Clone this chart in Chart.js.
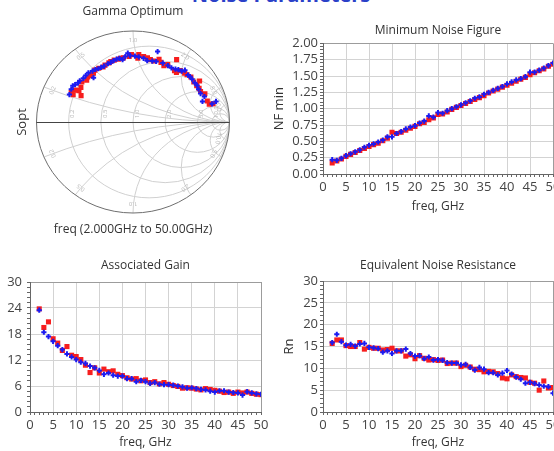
<!DOCTYPE html>
<html>
<head>
<meta charset="utf-8">
<title>Noise Parameters</title>
<script src="https://cdn.jsdelivr.net/npm/chart.js@4.4.1/dist/chart.umd.min.js"></script>
<style>
  html, body { margin: 0; padding: 0; background: #fff; width: 554px; height: 451px; overflow: hidden; position: relative; }
  .plot { position: absolute; }
  #pageTitle { position: absolute; left: 0; width: 562px; top: -19px; line-height: 20px; text-align: center;
               font: bold 20px 'Open Sans', sans-serif; color: #2a40c8; }
</style>
</head>
<body>
<div id="pageTitle">Noise Parameters</div>
<canvas id="gammaChart" class="plot" width="277" height="250" style="left:0;top:0"></canvas>
<canvas id="nfChart" class="plot" width="330" height="225" style="left:255px;top:0"></canvas>
<canvas id="gainChart" class="plot" width="277" height="201" style="left:0;top:250px"></canvas>
<canvas id="rnChart" class="plot" width="330" height="201" style="left:255px;top:250px"></canvas>
<script>
/* Noise parameters: Gamma optimum (Smith chart), NFmin, associated gain, Rn
   red squares = first data set, blue crosses = second data set */

// ---- data ---------------------------------------------------------------
const freqGHz = [2, 3, 4, 5, 6, 7, 8, 9, 10, 11, 12, 13, 14, 15, 16, 17, 18, 19, 20, 21, 22, 23, 24, 25, 26,
                 27, 28, 29, 30, 31, 32, 33, 34, 35, 36, 37, 38, 39, 40, 41, 42, 43, 44, 45, 46, 47, 48, 49, 50];

// Gamma opt, real / imaginary part
const soptRedRe = [0.830, 0.790, 0.770, 0.745, 0.700, 0.685, 0.690, 0.660, 0.630, 0.600, 0.560, 0.535, 0.490,
                   0.450, 0.430, 0.452, 0.360, 0.320, 0.290, 0.270, 0.215, 0.180, 0.150, 0.110, 0.060, 0.050,
                   -0.015, -0.040, -0.100, -0.130, -0.150, -0.195, -0.230, -0.250, -0.290, -0.310, -0.355,
                   -0.395, -0.410, -0.430, -0.470, -0.480, -0.530, -0.540, -0.538, -0.600, -0.560, -0.640, -0.620];
const soptRedIm = [0.200, 0.195, 0.230, 0.310, 0.335, 0.370, 0.450, 0.400, 0.440, 0.495, 0.520, 0.535, 0.565,
                   0.545, 0.565, 0.685, 0.630, 0.620, 0.655, 0.690, 0.670, 0.685, 0.705, 0.720, 0.740, 0.700,
                   0.740, 0.720, 0.705, 0.700, 0.690, 0.680, 0.665, 0.650, 0.625, 0.605, 0.590, 0.570, 0.535,
                   0.510, 0.495, 0.460, 0.440, 0.380, 0.290, 0.350, 0.345, 0.325, 0.300];
const soptBlueRe = [0.860, 0.820, 0.720, 0.740, 0.700, 0.680, 0.665, 0.640, 0.613, 0.590, 0.570, 0.538, 0.505,
                    0.470, 0.440, 0.398, 0.362, 0.309, 0.255, 0.240, 0.200, 0.147, 0.110, 0.060, 0.020, -0.054,
                    -0.030, -0.080, -0.108, -0.140, -0.170, -0.200, -0.230, -0.260, -0.301, -0.330, -0.360,
                    -0.390, -0.409, -0.420, -0.462, -0.490, -0.515, -0.552, -0.570, -0.600, -0.624, -0.640, -0.659];
const soptBlueIm = [0.226, 0.200, 0.226, 0.280, 0.312, 0.360, 0.400, 0.430, 0.470, 0.500, 0.516, 0.570, 0.559,
                    0.575, 0.580, 0.595, 0.620, 0.648, 0.774, 0.665, 0.670, 0.674, 0.700, 0.715, 0.725, 0.756,
                    0.730, 0.720, 0.685, 0.700, 0.690, 0.675, 0.655, 0.640, 0.613, 0.600, 0.585, 0.577, 0.487,
                    0.560, 0.541, 0.510, 0.480, 0.452, 0.430, 0.410, 0.398, 0.360, 0.301];

const nfminRed = [0.17, 0.20, 0.23, 0.27, 0.30, 0.33, 0.36, 0.39, 0.42, 0.45, 0.47, 0.51, 0.55, 0.64, 0.62, 0.64,
                  0.67, 0.70, 0.73, 0.77, 0.79, 0.83, 0.86, 0.91, 0.92, 0.95, 0.99, 1.02, 1.05, 1.08, 1.11, 1.14,
                  1.17, 1.20, 1.24, 1.27, 1.30, 1.33, 1.36, 1.39, 1.42, 1.45, 1.48, 1.52, 1.55, 1.58, 1.61, 1.65, 1.68];
const nfminBlue = [0.22, 0.21, 0.24, 0.28, 0.31, 0.34, 0.37, 0.41, 0.44, 0.46, 0.49, 0.52, 0.57, 0.57, 0.62, 0.65,
                   0.69, 0.72, 0.74, 0.78, 0.81, 0.89, 0.87, 0.94, 0.93, 0.97, 1.00, 1.03, 1.06, 1.09, 1.12, 1.16,
                   1.18, 1.22, 1.25, 1.28, 1.31, 1.34, 1.38, 1.41, 1.44, 1.46, 1.49, 1.56, 1.56, 1.59, 1.62, 1.66, 1.70];

const gainRed = [23.8, 19.5, 20.8, 16.9, 15.9, 14.2, 15.1, 13.1, 12.8, 12.1, 10.8, 9.1, 10.2, 9.0, 9.9, 9.3, 9.5,
                 8.7, 8.4, 7.9, 7.6, 7.7, 7.2, 7.4, 6.8, 7.0, 6.5, 6.8, 6.4, 6.1, 5.9, 5.5, 5.6, 5.5, 5.3, 5.1,
                 5.4, 5.2, 5.0, 4.8, 4.5, 4.6, 4.3, 4.6, 4.4, 4.6, 4.3, 4.1, 4.0];
const gainBlue = [23.5, 18.4, 17.4, 16.3, 15.3, 14.4, 13.4, 12.7, 12.1, 11.5, 11.2, 10.6, 10.2, 9.6, 8.7, 9.0, 8.5,
                  8.3, 8.3, 7.7, 7.7, 7.0, 7.3, 7.0, 6.6, 6.8, 6.4, 6.3, 6.3, 6.2, 6.0, 5.8, 5.5, 5.6, 5.4, 5.2,
                  5.1, 4.8, 4.6, 4.9, 4.9, 4.6, 4.5, 4.4, 3.9, 4.7, 4.4, 4.2, 4.1];

const rnRed = [15.7, 16.5, 16.5, 15.2, 15.0, 15.0, 15.9, 14.4, 14.8, 14.6, 14.6, 14.2, 14.3, 14.6, 14.0, 14.0, 12.8,
               13.1, 12.2, 12.9, 12.3, 11.9, 12.0, 11.8, 11.9, 11.1, 11.2, 11.2, 10.4, 10.7, 10.3, 9.8, 9.7, 9.2,
               9.3, 9.2, 8.8, 7.8, 7.6, 8.5, 8.1, 7.9, 7.8, 6.8, 6.6, 5.0, 7.1, 5.5, 5.6];
const rnBlue = [15.9, 17.8, 16.1, 15.3, 15.5, 15.1, 15.6, 15.7, 14.8, 14.7, 14.5, 13.7, 14.0, 13.4, 14.0, 14.0, 14.4,
                13.4, 12.8, 12.9, 12.2, 12.6, 11.9, 12.0, 11.8, 11.3, 11.2, 11.2, 10.8, 10.9, 10.2, 9.6, 10.2, 9.8,
                9.0, 9.0, 8.5, 8.9, 9.5, 8.7, 8.0, 7.5, 6.6, 6.8, 6.5, 6.2, 5.9, 5.8, 4.3];

// axis ticks
const freqTicks = [0, 5, 10, 15, 20, 25, 30, 35, 40, 45, 50];
const nfTicks = [0, 0.25, 0.5, 0.75, 1, 1.25, 1.5, 1.75, 2];
const gainTicks = [0, 6, 12, 18, 24, 30];
const rnTicks = [0, 5, 10, 15, 20, 25, 30];
const smithR = [0.2, 0.5, 1, 2, 5, 10];
const smithX = [0.2, 0.5, 1, 2, 5, 10];

// ---- styling ------------------------------------------------------------
const GRID = '#d3d3d3';
const FRAME = '#9c9c9c';
const AXIS = '#666';
const TEXT = '#333';

Chart.defaults.font.family = "'Open Sans', sans-serif";
Chart.defaults.color = '#444';
Chart.defaults.animation = false;

function redSeries(points) {
    return { data: points, pointStyle: 'rect', pointRadius: 3.6, pointBackgroundColor: '#f71e1e',
             pointBorderWidth: 0, order: 1 };
}

function blueSeries(points) {
    return { data: points, pointStyle: 'cross', pointRadius: 2.6, pointBorderColor: '#1b1bf2',
             pointBorderWidth: 2, order: 0 };
}

function toPoints(xs, ys) {
    return xs.map((x, i) => ({ x: x, y: ys[i] }));
}

function chartTitle(text, top, bottom) {
    return { display: true, text: text, fullSize: false, color: TEXT,
             font: { size: 12, weight: 'normal' }, padding: { top: top, bottom: bottom } };
}

/**
 * Linear axis with minor tick marks and labels / grid lines only on the major ticks
 */
function linearAxis(cfg) {
    const isMajor = v => cfg.majors.some(m => Math.abs(m - v) < 1e-6);
    const vertical = cfg.position === 'left';
    return {
        type: 'linear',
        position: cfg.position,
        min: cfg.min,
        max: cfg.max,
        afterFit: function (scale) {
            if (vertical) scale.width = cfg.size; else scale.height = cfg.size;
        },
        ticks: {
            stepSize: cfg.minor,
            autoSkip: false,
            minRotation: 0,
            maxRotation: 0,
            padding: cfg.labelPad,
            font: { size: 13 },
            color: '#444',
            callback: v => isMajor(v) ? cfg.format(v) : ''
        },
        grid: {
            color: c => (!c.tick || !isMajor(c.tick.value)) ? 'transparent'
                : (Math.abs(c.tick.value - cfg.max) < 1e-6 ? FRAME : GRID),
            tickColor: AXIS,
            tickLength: 3
        },
        border: { color: AXIS },
        title: cfg.title
            ? { display: true, text: cfg.title, color: TEXT, font: { size: cfg.titleSize || 12 }, padding: cfg.titlePad }
            : { display: false }
    };
}

function freqAxis(height, titleBottom) {
    return linearAxis({ position: 'bottom', min: 0, max: 50, minor: 1, majors: freqTicks, size: height,
                        labelPad: 2, format: v => String(v), title: 'freq, GHz',
                        titlePad: { top: 0, bottom: titleBottom } });
}

// ---- Smith chart grid ---------------------------------------------------
const smithGrid = {
    id: 'smithGrid',
    beforeDatasetsDraw(chart) {
        const { ctx, scales: { x, y } } = chart;
        const cx = x.getPixelForValue(0), cy = y.getPixelForValue(0);
        const rx = x.getPixelForValue(1) - cx, ry = cy - y.getPixelForValue(1);

        ctx.save();
        ctx.beginPath();
        ctx.ellipse(cx, cy, rx, ry, 0, 0, 2 * Math.PI);
        ctx.clip();
        ctx.strokeStyle = '#d0d0d0';
        ctx.lineWidth = 1;
        smithR.forEach(r => {
            const c = r / (1 + r), rad = 1 / (1 + r);
            ctx.beginPath();
            ctx.ellipse(cx + c * rx, cy, rad * rx, rad * ry, 0, 0, 2 * Math.PI);
            ctx.stroke();
        });
        smithX.forEach(xv => {
            [1, -1].forEach(s => {
                ctx.beginPath();
                ctx.ellipse(cx + rx, cy - s * ry / xv, rx / xv, ry / xv, 0, 0, 2 * Math.PI);
                ctx.stroke();
            });
        });
        ctx.restore();

        // small grey value labels
        ctx.save();
        ctx.fillStyle = '#b4b4b4';
        ctx.font = "6px 'Open Sans', sans-serif";
        ctx.textBaseline = 'middle';
        smithR.forEach(r => {
            const g = (r - 1) / (r + 1);
            ctx.save();
            ctx.translate(cx + g * rx + 4, cy - 4);
            ctx.rotate(-Math.PI / 2);
            ctx.textAlign = 'left';
            ctx.fillText(r.toFixed(1), 0, 0);
            ctx.restore();
        });
        smithX.forEach(xv => {
            [1, -1].forEach(s => {
                const a = s * (Math.PI - 2 * Math.atan(xv));
                ctx.save();
                ctx.translate(cx + 0.9 * rx * Math.cos(a), cy - 0.9 * ry * Math.sin(a));
                ctx.rotate(-a + Math.PI / 2);
                ctx.textAlign = 'center';
                ctx.fillText(xv.toFixed(1), 0, 0);
                ctx.restore();
            });
        });
        ctx.restore();

        // outer circle and real axis
        ctx.save();
        ctx.strokeStyle = '#6e6e6e';
        ctx.lineWidth = 1;
        ctx.beginPath();
        ctx.ellipse(cx, cy, rx, ry, 0, 0, 2 * Math.PI);
        ctx.stroke();
        ctx.strokeStyle = '#444';
        ctx.beginPath();
        ctx.moveTo(cx - rx, Math.round(cy) + 0.5);
        ctx.lineTo(cx + rx, Math.round(cy) + 0.5);
        ctx.stroke();
        ctx.restore();
    }
};

// ---- charts -------------------------------------------------------------
function renderGammaChart() {
    new Chart(document.getElementById('gammaChart'), {
        type: 'scatter',
        data: { datasets: [redSeries(toPoints(soptRedRe, soptRedIm)), blueSeries(toPoints(soptBlueRe, soptBlueIm))] },
        options: {
            responsive: false,
            events: [],
            layout: { padding: { left: 0, right: 47.5, top: 0, bottom: 0 } },
            plugins: { legend: { display: false }, tooltip: { enabled: false },
                       title: chartTitle('Gamma Optimum', 4.8, 11.8) },
            scales: {
                x: { type: 'linear', min: -1, max: 1, afterFit: s => { s.height = 37; },
                     ticks: { display: false }, grid: { display: false }, border: { display: false },
                     title: { display: true, text: 'freq (2.000GHz to 50.00GHz)', color: TEXT,
                              font: { size: 12 }, padding: { top: 0, bottom: 12.8 } } },
                y: { type: 'linear', min: -1, max: 1, afterFit: s => { s.width = 36.5; },
                     ticks: { display: false }, grid: { display: false }, border: { display: false },
                     title: { display: true, text: 'Sopt', color: TEXT, font: { size: 13 },
                              padding: { top: 14.2, bottom: 0 } } }
            }
        },
        plugins: [smithGrid]
    });
}

function renderNoiseFigureChart() {
    new Chart(document.getElementById('nfChart'), {
        type: 'scatter',
        data: { datasets: [redSeries(toPoints(freqGHz, nfminRed)), blueSeries(toPoints(freqGHz, nfminBlue))] },
        options: {
            responsive: false,
            events: [],
            layout: { padding: { left: 0, right: 32, top: 0, bottom: 0 } },
            plugins: { legend: { display: false }, tooltip: { enabled: false },
                       title: chartTitle('Minimum Noise Figure', 23, 6) },
            scales: {
                x: freqAxis(51, 10.8),
                y: linearAxis({ position: 'left', min: 0, max: 2, minor: 0.05, majors: nfTicks, size: 68,
                                labelPad: 2, format: v => v.toFixed(2), title: 'NF min', titleSize: 13,
                                titlePad: { top: 16, bottom: 0 } })
            }
        }
    });
}

function renderGainChart() {
    new Chart(document.getElementById('gainChart'), {
        type: 'scatter',
        data: { datasets: [redSeries(toPoints(freqGHz, gainRed)), blueSeries(toPoints(freqGHz, gainBlue))] },
        options: {
            responsive: false,
            events: [],
            layout: { padding: { left: 0, right: 16, top: 0, bottom: 0 } },
            plugins: { legend: { display: false }, tooltip: { enabled: false },
                       title: chartTitle('Associated Gain', 8.8, 8.8) },
            scales: {
                x: freqAxis(39, 0.8),
                y: linearAxis({ position: 'left', min: 0, max: 30, minor: 1.2, majors: gainTicks, size: 30,
                                labelPad: 5, format: v => String(Math.round(v)) })
            }
        }
    });
}

function renderNoiseResistanceChart() {
    new Chart(document.getElementById('rnChart'), {
        type: 'scatter',
        data: { datasets: [redSeries(toPoints(freqGHz, rnRed)), blueSeries(toPoints(freqGHz, rnBlue))] },
        options: {
            responsive: false,
            events: [],
            layout: { padding: { left: 0, right: 32, top: 0, bottom: 0 } },
            plugins: { legend: { display: false }, tooltip: { enabled: false },
                       title: chartTitle('Equivalent Noise Resistance', 8.8, 7.8) },
            scales: {
                x: freqAxis(39, 0.8),
                y: linearAxis({ position: 'left', min: 0, max: 30, minor: 1, majors: rnTicks, size: 68,
                                labelPad: 2, format: v => String(Math.round(v)), title: 'Rn', titleSize: 13,
                                titlePad: { top: 26.2, bottom: 0 } })
            }
        }
    });
}

renderGammaChart();
renderNoiseFigureChart();
renderGainChart();
renderNoiseResistanceChart();
</script>
</body>
</html>
